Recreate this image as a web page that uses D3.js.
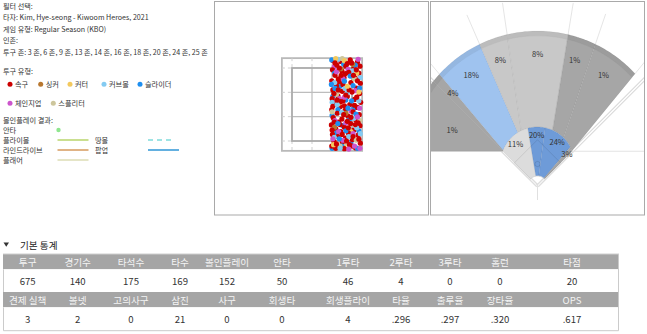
<!DOCTYPE html>
<html><head><meta charset="utf-8">
<script src="https://cdn.jsdelivr.net/npm/d3@7"></script>
<style>
body{margin:0;background:#fff;}
svg{display:block;font-family:"Noto Sans CJK KR","Noto Sans",sans-serif;}
</style></head><body>
<svg id="c" width="647" height="334"></svg>
<script>
// ---------------- DATA ----------------
const filterLabels = ["필터 선택:", "타자:", "게임 유형:", "인존:", "투구 존:"];
const filterValues = ["", " Kim, Hye-seong - Kiwoom Heroes, 2021", " Regular Season (KBO)", "", " 3 존, 6 존, 9 존, 13 존, 14 존, 16 존, 18 존, 20 존, 24 존, 25 존"];

const pitchTypes  = ["속구", "싱커", "커터", "커브볼", "슬라이더", "체인지업", "스플리터"];
const pitchColors = ["#cc0000", "#b8772f", "#f3c95e", "#84cbf2", "#1e8ff0", "#cc55cc", "#cdc69c"];

const bipTypes  = ["안타", "플라이볼", "땅볼", "라인드라이브", "팝업", "플래어"];
const bipColors = ["#8fe68f", "#b9d56b", "#7fdcdc", "#d69a5c", "#2f96d6", "#dcdcb4"];

// pitch locations [px (ft), pz (ft)]
const fastball = [[0.31,3.70],[0.52,3.68],[0.78,3.72],[0.98,3.66],[1.05,3.55],[0.41,3.58],[0.66,3.55],[0.88,3.50],[0.29,3.45],[0.55,3.42],[0.74,3.38],[1.02,3.36],[0.36,3.30],[0.61,3.24],[0.92,3.22],[0.27,3.15],[0.48,3.12],[0.80,3.10],[1.06,3.08],[0.40,3.02],[0.68,2.98],[0.95,2.95],[0.30,2.90],[0.56,2.86],[0.83,2.84],[1.04,2.80],[0.44,2.74],[0.70,2.72],[0.28,2.66],[0.90,2.64],[0.58,2.60],[1.07,2.56],[0.36,2.52],[0.77,2.50],[0.50,2.44],[0.98,2.42],[0.27,2.36],[0.64,2.34],[0.86,2.30],[0.42,2.26],[1.03,2.22],[0.72,2.18],[0.31,2.14],[0.55,2.10],[0.93,2.08],[0.46,2.02],[0.79,1.98],[0.26,1.94],[1.05,1.92],[0.62,1.88],[0.38,1.84],[0.88,1.80],[0.52,1.76],[0.73,1.72],[0.29,1.68],[1.00,1.66],[0.44,1.62],[0.65,1.58],[0.84,1.54],[0.33,1.50],[0.56,1.46],[1.06,1.44],[0.76,1.40],[0.27,1.36],[0.47,1.33],[0.93,1.31],[0.62,1.29],[0.38,1.30],[0.84,1.36],[0.70,3.62],[0.45,3.20],[0.87,3.30],[0.33,2.80],[0.62,2.46],[0.96,2.70],[0.50,1.95],[0.30,2.45],[1.00,2.00],[0.70,2.04],[0.58,3.05],[0.82,3.64],[0.36,3.64],[0.98,3.15],[0.52,2.58],[0.86,1.62],[0.40,1.42],[0.68,1.50],[1.02,1.55],[0.60,2.22],[0.45,2.90],[0.75,2.90],[0.90,2.48],[0.28,1.80],[0.56,1.68],[0.80,2.15],[0.34,2.02],[0.65,3.35],[0.95,3.45],[0.48,3.50],[0.73,1.86],[0.92,1.95],[0.42,2.62],[0.66,2.76],[0.53,3.30]];
const sinker = [[0.85,3.60],[0.52,3.48],[0.66,2.26],[0.35,1.88]];
const cutter = [[0.38,3.76],[0.62,3.70],[0.96,3.36],[0.45,2.52],[0.80,1.76],[0.60,1.34],[0.32,1.40],[1.02,2.84],[0.70,3.00]];
const curveball = [[0.45,3.74],[0.85,3.42],[1.06,3.24],[0.35,3.10],[0.70,2.82],[1.02,2.60],[0.28,2.56],[0.55,2.28],[0.96,1.86],[0.34,1.60],[0.74,1.62],[1.06,1.70],[0.50,1.30],[0.64,2.94],[0.88,2.12],[0.42,2.50]];
const slider = [[0.27,3.72],[0.60,3.60],[0.92,3.58],[0.35,3.36],[0.78,3.28],[0.50,3.00],[1.04,2.95],[0.30,2.72],[0.66,2.62],[0.88,2.40],[0.44,2.36],[0.28,2.20],[0.75,2.08],[0.58,1.92],[1.02,1.78],[0.40,1.72],[0.80,1.46],[0.28,1.30],[0.55,1.36],[0.98,1.30],[0.66,1.78],[0.36,2.94],[0.82,2.60],[0.48,1.56],[0.94,2.24],[0.62,3.14],[0.26,3.05],[0.86,3.02],[0.72,2.40],[0.44,1.98]];
const changeup = [[0.34,3.54],[0.72,3.46],[1.00,3.74],[0.58,3.20],[0.92,2.88],[0.30,2.60],[0.48,2.66],[0.80,2.32],[1.04,2.40],[0.36,2.06],[0.66,2.00],[0.86,1.70],[0.30,1.56],[0.58,1.52],[0.90,1.36],[0.74,1.28],[1.05,1.30],[0.46,1.76],[0.62,2.70],[0.40,3.40],[0.98,2.16]];
const splitter = [[0.56,3.76],[0.90,3.20],[0.40,2.78],[1.05,2.06],[0.70,1.44],[0.50,1.36],[0.95,1.52],[0.28,2.30]];
const pitchSeries = [fastball, sinker, cutter, curveball, slider, changeup, splitter];

// spray chart percentages
const outfieldZones = ["좌측 파울", "좌측 선상", "좌익", "좌중간", "중견", "우중간", "우익"];
const outfieldPct   = [1, 4, 18, 8, 8, 1, 1];
const infieldZones  = ["3유간", "중앙", "1-2루간", "1루 선상"];
const infieldPct    = [11, 20, 24, 3];

// stats table
const statHeaders1 = ["투구","경기수","타석수","타수","볼인플레이","안타","1루타","2루타","3루타","홈런","타점"];
const statValues1  = ["675","140","175","169","152","50","46","4","0","0","20"];
const statHeaders2 = ["견제 실책","볼넷","고의사구","삼진","사구","회생타","회생플라이","타율","출루율","장타율","OPS"];
const statValues2  = ["3","2","0","21","0","0","4",".296",".297",".320",".617"];

// ---------------- DRAW ----------------
const svg = d3.select("#c");
const txt = "#333";

// left info text
const info = svg.append("g").attr("font-size", 7.1).attr("fill", txt);
const infoY = d3.scaleLinear().domain([0, 4]).range([5.8, 51.6]);
filterLabels.forEach((l, i) => {
  const t = info.append("text").attr("x", 3).attr("y", infoY(i)).attr("dominant-baseline", "central");
  t.append("tspan").text(l);
  t.append("tspan").text(filterValues[i]);
});

// pitch legend
const leg = svg.append("g").attr("font-size", 7.2).attr("fill", txt);
leg.append("text").attr("x", 3).attr("y", 70.7).attr("dominant-baseline", "central").text("투구 유형:");
const legPos = [[10,84.3],[40.7,84.3],[70,84.3],[104,84.3],[140,84.3],[10,103.3],[53.3,103.3]];
pitchTypes.forEach((p, i) => {
  const [x, y] = legPos[i];
  leg.append("circle").attr("cx", x).attr("cy", y).attr("r", 2.5).attr("fill", pitchColors[i]);
  leg.append("text").attr("x", x + 5).attr("y", y).attr("dominant-baseline", "central").text(p);
});
leg.append("text").attr("x", 3).attr("y", 120).attr("dominant-baseline", "central").text("볼인플레이 결과:");
const bipPos = [[3,130,57.5,null],[3,140,57.5,88.5],[95,140,148,174],[3,150,57.5,88.5],[95,150,148,179],[3,160,57.5,88.5]];
bipTypes.forEach((b, i) => {
  const [tx, y, x1, x2] = bipPos[i];
  leg.append("text").attr("x", tx).attr("y", y).attr("dominant-baseline", "central").text(b);
  if (x2 === null) {
    leg.append("circle").attr("cx", x1 + 1).attr("cy", y).attr("r", 2.2).attr("fill", bipColors[i]);
  } else {
    leg.append("line").attr("x1", x1).attr("x2", x2).attr("y1", y).attr("y2", y)
      .attr("stroke", bipColors[i]).attr("stroke-width", 1.5)
      .attr("stroke-dasharray", b === "땅볼" ? "5,4" : null);
  }
});

// panels
svg.append("rect").attr("x", 214.5).attr("y", 1.5).attr("width", 214).attr("height", 213.5)
  .attr("fill", "none").attr("stroke", "#a9a9a9");
svg.append("rect").attr("x", 430.5).attr("y", 1.5).attr("width", 214).attr("height", 213.5)
  .attr("fill", "none").attr("stroke", "#a9a9a9");

// strike zone
const xs = d3.scaleLinear().domain([-0.83, 0.83]).range([292, 352]);
const ys = d3.scaleLinear().domain([1.5, 3.5]).range([141, 68]);
const zg = svg.append("g");
const ox0 = -1.11, ox1 = 1.11, oy0 = 1.23, oy1 = 3.77;
zg.append("rect").attr("x", xs(ox0)).attr("y", ys(oy1)).attr("width", xs(ox1) - xs(ox0)).attr("height", ys(oy0) - ys(oy1))
  .attr("fill", "none").attr("stroke", "#b9b9b9").attr("stroke-width", 1.8);
const vx = [-0.83, -0.83 / 3, 0.83 / 3, 0.83];
const hz = [1.5, 1.5 + 2 / 3, 1.5 + 4 / 3, 3.5];
vx.forEach(v => {
  [[oy1, 3.5], [1.5, oy0]].forEach(([a, b]) => zg.append("line").attr("x1", xs(v)).attr("x2", xs(v)).attr("y1", ys(a)).attr("y2", ys(b))
    .attr("stroke", "#cfcfcf").attr("stroke-width", 1).attr("stroke-dasharray", "3,3"));
});
hz.forEach(h => {
  [[ox0, -0.83], [0.83, ox1]].forEach(([a, b]) => zg.append("line").attr("x1", xs(a)).attr("x2", xs(b)).attr("y1", ys(h)).attr("y2", ys(h))
    .attr("stroke", "#cfcfcf").attr("stroke-width", 1).attr("stroke-dasharray", "3,3"));
});
[vx[1], vx[2]].forEach(v => zg.append("line").attr("x1", xs(v)).attr("x2", xs(v)).attr("y1", ys(3.5)).attr("y2", ys(1.5)).attr("stroke", "#bdbdbd").attr("stroke-width", 1.2));
[hz[1], hz[2]].forEach(h => zg.append("line").attr("x1", xs(-0.83)).attr("x2", xs(0.83)).attr("y1", ys(h)).attr("y2", ys(h)).attr("stroke", "#bdbdbd").attr("stroke-width", 1.2));
zg.append("rect").attr("x", xs(-0.83)).attr("y", ys(3.5)).attr("width", xs(0.83) - xs(-0.83)).attr("height", ys(1.5) - ys(3.5))
  .attr("fill", "none").attr("stroke", "#ababab").attr("stroke-width", 1.8);

// interleave series so that draw order mixes pitch types
const allPitches = [];
pitchSeries.forEach((s, k) => s.forEach((d, i) => allPitches.push({ px: d[0], pz: d[1], k, ord: (i + 0.5) / s.length })));
allPitches.sort((a, b) => a.ord - b.ord);
zg.append("g").selectAll("circle").data(allPitches).join("circle")
  .attr("cx", d => xs(d.px)).attr("cy", d => ys(d.pz)).attr("r", 2.6)
  .attr("fill", d => pitchColors[d.k]);

// ---------------- spray chart ----------------
const clip = svg.append("defs").append("clipPath").attr("id", "sc");
clip.append("rect").attr("x", 431).attr("y", 2).attr("width", 213).attr("height", 212.5);
const sg = svg.append("g").attr("clip-path", "url(#sc)");
const H = { x: 537.5, y: 186 }, M = { x: 537.5, y: 164 };
const R_IN = 37, R_OUT = 133, R_HOME = 10;
const rad = a => a * Math.PI / 180;
const polM = (a, r) => [M.x + r * Math.sin(rad(a)), M.y - r * Math.cos(rad(a))];
const polH = (a, r) => [H.x + r * Math.sin(rad(a)), H.y - r * Math.cos(rad(a))];
const angM = p => Math.atan2(p[0] - M.x, -(p[1] - M.y)) * 180 / Math.PI;
const dHM = H.y - M.y;
const distTo = (a, R) => { const c = Math.cos(rad(a)); return dHM * c + Math.sqrt(dHM * dHM * c * c + R * R - dHM * dHM); };
const line = d3.line();

// foul lines (double)
[-45, 45].forEach(a => {
  const p1 = polH(a, 0), p2 = polH(a, 200);
  sg.append("line").attr("x1", p1[0]).attr("y1", p1[1]).attr("x2", p2[0]).attr("y2", p2[1]).attr("stroke", "#d9d9d9").attr("stroke-width", 3.4);
  sg.append("line").attr("x1", p1[0]).attr("y1", p1[1]).attr("x2", p2[0]).attr("y2", p2[1]).attr("stroke", "#fff").attr("stroke-width", 1.4);
});
const cornerL = polH(-45, distTo(-45, R_IN));
const cornerR = polH(45, distTo(45, R_IN));
sg.append("line").attr("x1", cornerR[0]).attr("x2", 650).attr("y1", cornerR[1]).attr("y2", cornerR[1]).attr("stroke", "#e3e3e3");
sg.append("line").attr("x1", 420).attr("x2", cornerL[0]).attr("y1", cornerL[1]).attr("y2", cornerL[1]).attr("stroke", "#e3e3e3");
sg.append("line").attr("x1", H.x).attr("x2", H.x).attr("y1", H.y).attr("y2", H.y + 14).attr("stroke", "#e0e0e0");

// outfield boundaries
const horizOuter = [M.x - Math.sqrt(R_OUT * R_OUT - (cornerL[1] - M.y) ** 2), cornerL[1]];
const foulOuterL = polH(-45, distTo(-45, R_OUT));
const bnd = [
  { inner: cornerL, outer: horizOuter },
  { inner: cornerL, outer: foulOuterL },
  { inner: polM(-68, R_IN), outer: polM(-47.5, R_OUT) },
  { inner: polM(-32, R_IN), outer: polM(-25.8, R_OUT) },
  { inner: polM(-26, R_IN), outer: polM(-13.2, R_OUT) },
  { inner: polM(24, R_IN), outer: polM(13.3, R_OUT) },
  { inner: polM(45, R_IN), outer: polM(25.8, R_OUT) },
  { inner: polM(69, R_IN), outer: polM(47.2, R_OUT) }
];
const colorOf = d3.scaleThreshold().domain([6, 10, 15, 19]).range(["#a6a6a6", "#c8c8c8", "#dcdcdc", "#9fc3ef", "#6e9bd8"]);
function arcPts(a0, a1, r, n) { return d3.range(n + 1).map(i => polM(a0 + (a1 - a0) * i / n, r)); }

bnd.slice(2).forEach(b => {
  const dx = b.outer[0] - b.inner[0], dy = b.outer[1] - b.inner[1], L = Math.hypot(dx, dy);
  sg.append("line").attr("x1", b.outer[0]).attr("y1", b.outer[1])
    .attr("x2", b.outer[0] + dx / L * 32).attr("y2", b.outer[1] + dy / L * 32)
    .attr("stroke", "#e2e2e2").attr("stroke-width", 0.9);
});

outfieldPct.forEach((v, i) => {
  const A = bnd[i], B = bnd[i + 1];
  const aO0 = angM(A.outer), aO1 = angM(B.outer);
  const aI1 = angM(B.inner), aI0 = angM(A.inner);
  const pts = [A.inner, ...arcPts(aO0, aO1, R_OUT, 24), B.inner];
  if (i > 1) pts.push(...arcPts(aI1, aI0, R_IN, 10));
  sg.append("path").attr("d", line(pts) + "Z").attr("fill", colorOf(v))
    .attr("stroke", "rgba(0,0,0,0.07)").attr("stroke-width", 0.7);
});
const bandStart = angM(horizOuter), bandEnd = angM(bnd[7].outer);
sg.append("path").attr("d", line(arcPts(bandStart, bandEnd, R_OUT - 2.3, 60))).attr("fill", "none")
  .attr("stroke", "rgba(0,0,0,0.06)").attr("stroke-width", 4.6);
sg.append("path").attr("d", line(arcPts(bandStart, bandEnd, R_OUT - 4.8, 60))).attr("fill", "none")
  .attr("stroke", "rgba(0,0,0,0.07)").attr("stroke-width", 0.6);

// infield
const infAng = [-45, -9.5, 7.5, 40, 45];
infieldPct.forEach((v, i) => {
  const a0 = infAng[i], a1 = infAng[i + 1];
  const outer = d3.range(21).map(k => { const a = a0 + (a1 - a0) * k / 20; return polH(a, distTo(a, R_IN)); });
  const inner = d3.range(9).map(k => { const a = a1 - (a1 - a0) * k / 8; return polH(a, R_HOME); });
  sg.append("path").attr("d", line([...outer, ...inner]) + "Z").attr("fill", colorOf(v))
    .attr("stroke", "rgba(0,0,0,0.08)").attr("stroke-width", 0.7);
});
sg.append("path").attr("d", line(d3.range(21).map(k => polH(-45 + 90 * k / 20, R_HOME)))).attr("fill", "none").attr("stroke", "#d5d5d5").attr("stroke-width", 0.8);
const base = 32.7;
const b1 = polH(45, base), b2 = polH(0, base * Math.SQRT2), b3 = polH(-45, base);
sg.append("path").attr("d", line([[H.x, H.y], b1, b2, b3]) + "Z").attr("fill", "none").attr("stroke", "rgba(0,0,0,0.13)").attr("stroke-width", 0.7);
sg.append("circle").attr("cx", M.x).attr("cy", M.y).attr("r", 2.6).attr("fill", "none").attr("stroke", "rgba(0,0,0,0.18)").attr("stroke-width", 0.6);

// labels
const lab = sg.append("g").attr("font-size", 7.6).attr("fill", "#333").attr("text-anchor", "middle");
outfieldPct.forEach((v, i) => {
  const mid = (angM(bnd[i].outer) + angM(bnd[i + 1].outer)) / 2;
  const p = polM(mid, i === 0 ? 92 : 111);
  lab.append("text").attr("x", p[0]).attr("y", p[1]).attr("dominant-baseline", "central").text(v + "%");
});
infieldPct.forEach((v, i) => {
  const mid = (infAng[i] + infAng[i + 1]) / 2;
  const p = polH(mid, distTo(mid, R_IN) * 0.87);
  lab.append("text").attr("x", p[0]).attr("y", p[1]).attr("dominant-baseline", "central").text(v + "%");
});

// ---------------- table ----------------
const tg = svg.append("g");
tg.append("path").attr("d", "M3.5,242.5 L9,242.5 L6.25,246.8 Z").attr("fill", "#333");
tg.append("text").attr("x", 20).attr("y", 245).attr("dominant-baseline", "central").attr("font-size", 9.6).attr("fill", "#222").text("기본 통계");
const colX = [27.7, 77.7, 131, 180, 227, 282, 348, 401, 450, 500, 572];
const tL = 3, tR = 619;
const rows = [
  { y0: 254, y1: 269.3, vals: statHeaders1, head: true },
  { y0: 269.3, y1: 292, vals: statValues1, head: false },
  { y0: 292, y1: 307.3, vals: statHeaders2, head: true },
  { y0: 307.3, y1: 330.7, vals: statValues2, head: false }
];
rows.forEach(r => {
  tg.append("rect").attr("x", tL).attr("y", r.y0).attr("width", tR - tL).attr("height", r.y1 - r.y0)
    .attr("fill", r.head ? "#a5a5a5" : "#fff");
  tg.selectAll(null).data(r.vals).join("text")
    .attr("x", (d, i) => colX[i]).attr("y", (r.y0 + r.y1) / 2)
    .attr("text-anchor", "middle").attr("dominant-baseline", "central")
    .attr("font-size", 9.6).attr("fill", r.head ? "#f4f4f4" : "#333").text(d => d);
});
tg.append("path").attr("d", `M${tL + 0.5},269.3 V292 M${tR - 0.5},254 V292 M${tL + 0.5},307.3 V330.7 H${tR - 0.5} V292`)
  .attr("fill", "none").attr("stroke", "#cbcbcb").attr("stroke-width", 1);
tg.append("path").attr("d", `M${tL},254 H${tR}`).attr("stroke", "#cfcfcf");
</script>
</body></html>
